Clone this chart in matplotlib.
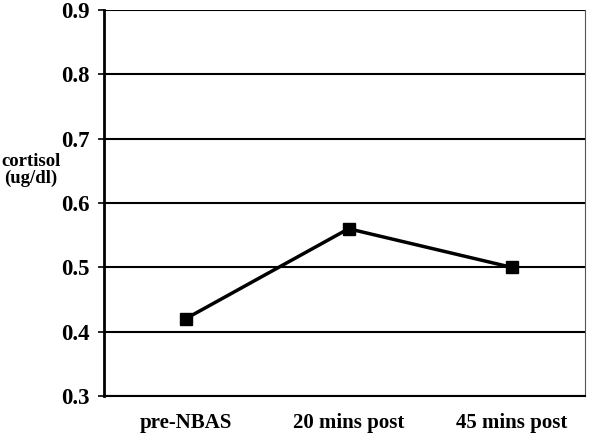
import matplotlib
matplotlib.use("Agg")
import matplotlib.pyplot as plt

categories = ["pre-NBAS", "20 mins post", "45 mins post"]
cortisol = [0.42, 0.56, 0.50]
yticks = [0.3, 0.4, 0.5, 0.6, 0.7, 0.8, 0.9]

plt.rcParams['font.family'] = ['Liberation Serif', 'DejaVu Serif']

fig = plt.figure(figsize=(6.0, 4.37), dpi=100)
ax = fig.add_axes([104/600, 1-396/437, (585-104)/600, (396-10)/437])

x = list(range(len(categories)))
ax.plot(x, cortisol, color='black', linewidth=2.5, marker='s', markersize=9,
        markerfacecolor='black', markeredgecolor='black', zorder=3)

ax.set_ylim(0.3, 0.9)
ax.set_xlim(-0.5, 2.45)
ax.set_yticks(yticks)
ax.set_yticklabels([f"{v:.1f}" for v in yticks], fontsize=16.5, fontweight='bold')
ax.set_xticks(x)
ax.set_xticklabels(categories, fontsize=15, fontweight='bold')
ax.tick_params(axis='x', length=0, pad=12)
ax.tick_params(axis='y', length=4, width=1.2, direction='out', pad=6)

for v in yticks:
    ax.axhline(v, color='black', linewidth=1.5, zorder=1)

ax.spines['left'].set_linewidth(2.0)
ax.spines['bottom'].set_linewidth(1.5)
ax.spines['top'].set_visible(False)
ax.spines['right'].set_linewidth(0.8)
ax.spines['right'].set_color('#555555')

fig.text(31/600, 1-170/437, "cortisol\n(ug/dl)", ha='center', va='center',
         fontsize=13.5, fontweight='bold', linespacing=1.0)

fig.savefig("out.png", dpi=100)
